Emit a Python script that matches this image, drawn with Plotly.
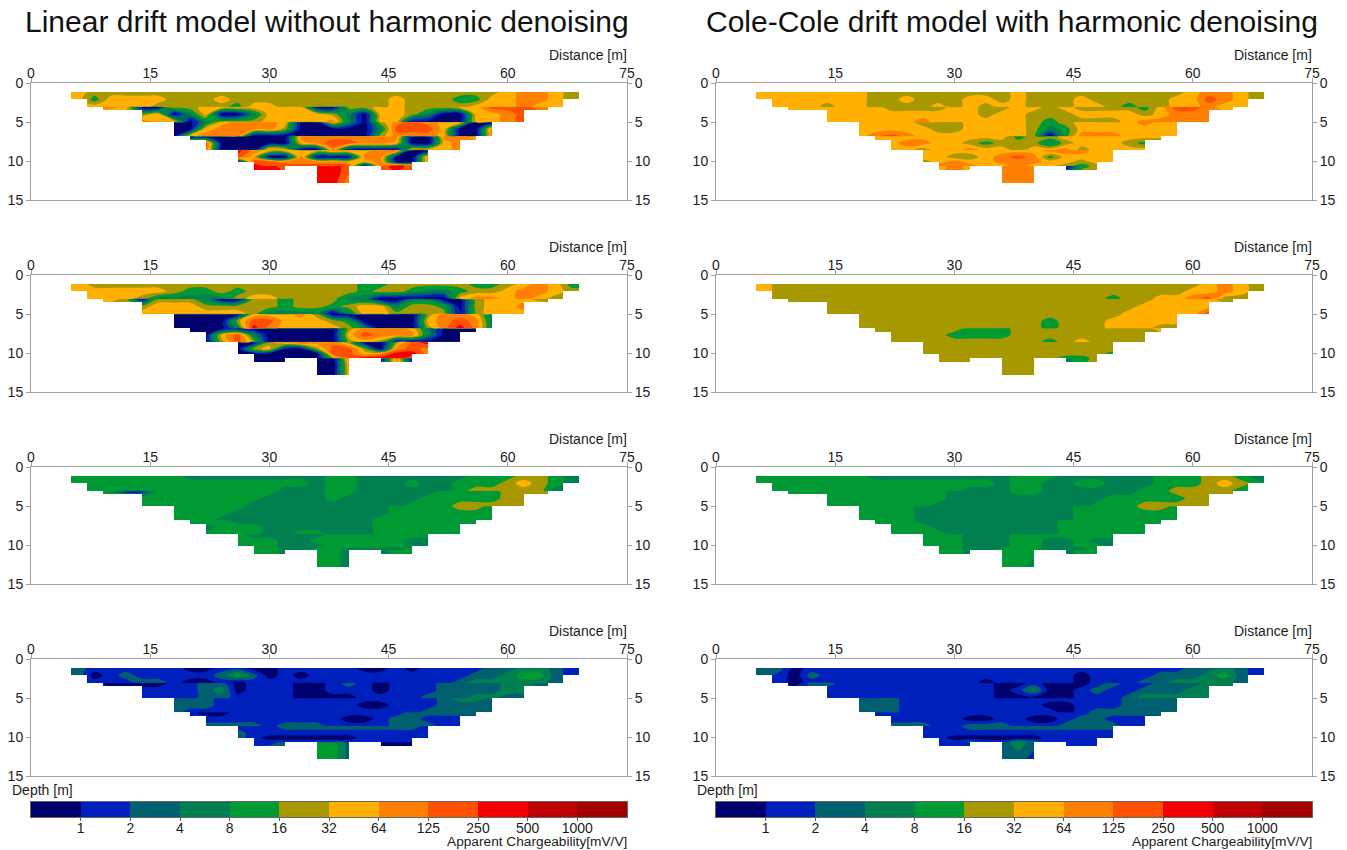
import plotly.graph_objects as go

# Chargeability classes (index = class, 0 is below 1 mV/V)
class_colors = ["#00006e", "#0020be", "#006070", "#008050", "#009a35", "#a89800",
                "#ffb000", "#ff8000", "#ff5000", "#f50000", "#c00000", "#a50000"]
class_labels = ["1", "2", "4", "8", "16", "32", "64", "125", "250", "500", "1000"]

grid_x = [4 + 2 * i for i in range(34)]
grid_depth = [1.15, 2.1, 3.02, 3.12, 4.0, 4.97, 5.07, 5.9, 6.78, 6.88, 7.7, 8.55, 8.65, 9.5, 10.1, 10.62, 10.72, 12.85]
row_start = [0, 0, 1, 2, 5, 5, 7, 7, 7, 8, 9, 9, 11, 11, 11, 12, 12, 16]
row_len = [34, 34, 32, 30, 25, 25, 21, 21, 21, 19, 17, 17, 13, 13, 13, 11, 11, 3]

# Section outline
outline_edges = [0, 5, 7, 9, 14, 18, 20, 22, 26, 28, 32, 36, 40, 44, 48, 50, 54, 56, 58, 62, 65, 67, 69, 75]
outline_bottom = [0, 2.1, 3.05, 3.5, 5.05, 6.85, 7.3, 8.6, 10.15, 11.1, 10.7, 12.8, 10.7, 11.1, 10.15, 8.6, 7.3, 6.85, 5.05, 3.5, 3.05, 2.1, 0]
outline_levels = [0, 1.15, 2.1, 3.05, 3.5, 5.05, 6.85, 7.3, 8.6, 10.15, 10.7, 11.1, 12.8, 15]

linear_a = ["66 55555 55555 55555 55555 55555 5 677655",
            "66 4 6666 555 6 55555 55555 6 555 44 66 77 6 55",
            "66666 55555 4 66 5555555 6 5555 666 7 66 5",
            "776 00 55 6666666 00 55 66 555 66 888 77",
            "5603600366665306653006678",
            "7660355566667306600006678",
            "003677760063057876600",
            "006777750000038886007",
            "067770000000057776007",
            "0000000777777700776",
            "80000067887760067",
            "80007600700006667",
            "9766667767700",
            "8600700077007",
            "0887777667007",
            "98888880798",
            "99889988898",
            "997"]
linear_b = ["665 55555 55555 55555 5 445555544567644",
            "6666666 5 44 5 4 5555555 4 55 4 33 4 55 6 77 6 55",
            "66665333335665555330000067767654",
            "66 5 0 555 3 00 55 4 555 33 00 33 00 5 666 5 4",
            "5666555554554566355405667",
            "6666666533330366555505666",
            "000006667500000057763",
            "000058866654000067873",
            "000039766665300057973",
            "0000000000577763000",
            "06830000068777300",
            "05850000056500000",
            "0057877500589",
            "0560058850787",
            "0000008867997",
            "00000589998",
            "00000077070",
            "006"]
linear_c = ["44444444 333333333 44 3333333 444 55 4 33",
            "4444444444444444 3 44 333 4 33 444 565 4 33",
            "4444444444444 333 44 333333 4 55555 33",
            "44 11 44444444 333 44 33333 4 444 555 4",
            "44444444 3333 4 33333 44444 55",
            "4444444 3333333333 444 55555",
            "44444 333333333 4444 55 4",
            "4444 333333333 3 4444444",
            "444 3333333333 44444444",
            "444 333333333 4444444",
            "3 444 3333333 444444",
            "4444 33 44 333 444444",
            "4 33333 4444444",
            "444 33 444444 33",
            "444 333 44444 33",
            "44 33 44 3333 4",
            "44 33 44 333 44",
            "443"]
linear_d = ["22 111111 00 11 00 11111 00 1 0 1111 22 33 2 11",
            "22 0 1 2 11111 2 4 2 0 1 0 1 111111111 22 3 44 2 11",
            "2 111 22 1 00 1 0 1111111111111 2 33333 22",
            "1 0000 11 22 0 111 00 1 2 1 0 111 2222 33 22",
            "1111 2 3 0 111 00 111 0 111 2222 33",
            "1111 22 1 111 0000 1111 222 33 22",
            "222 11111111111111 2 33 2",
            "222 111111111 00 111 2222",
            "2 11111111111111 1 22222",
            "1 00 11111111111 22222",
            "111111111 00 1 22 111",
            "2222 1 222 1111 222 11",
            "111 222222222 1",
            "2 111111111111",
            "2 1 000000 11111",
            "11111111111",
            "11 2 1 44 2 1 000",
            "442"]
colecole_a = ["66666666 555555555 6 5555555555 677 655",
              "66666666 5 5 6 555 66 5 6 555 6 55555 66 8 7 6 55",
              "6666 5 66 5555 6 5 6 5 66 555 66 5 4 55 66 7 66 5",
              "6666666 5555 66 55 66 5 6 5555 4 6 88 7 66",
              "6666666666 5 66 555 6666 5 6 777",
              "666666 7 666666 5 4 5555 6 77777",
              "6666 555 6666 5 4 5 6666 7 66",
              "66666 55 6666 5 3 4 6 666666",
              "6 7 8 7 6666666 5 0 4 777 6666",
              "666666666 4 55 6666666",
              "67766 5 4 555 3 5 666 5 4",
              "66566 7 66 5 66 7 5 6666",
              "66666666 777 66",
              "66 55 6 7 8 7 4 6666",
              "5 6 7 66 777 66 5 66",
              "77766766545",
              "67667776045",
              "777"]
colecole_b = ["66 55555 55555 55555 55555 55555 55 67655",
              "66 55555 55555 55555 55555 55555 5 667655",
              "55555 55555 55555 55555 55 4 55 66 7 8 555",
              "55555 55555 55555 55555 5555 6666 55",
              "55555 55555 55555 55555 66666",
              "55555 55555 55555 5555 66666 8",
              "55555 55555 55555 55 6666",
              "55555 55555 55 4 555 66666",
              "55555 55555 55 4 555 666 55",
              "555555 444 5 55555555 6",
              "5555 4444 5 55555555",
              "5555555555 4 5 6 5555",
              "5555555555555",
              "5555555555555",
              "555555555555 4",
              "55555555 44 5",
              "55555555 3 4 5",
              "555"]
colecole_c = ["44444444 333333333 444 333333 444 55 4 33",
              "4444444444444444 3 44 33 44 333 444 565 4 3",
              "4444444444444 333 44 333333 44 5555 4 3",
              "44444444444 3 333 44 33333 3 44 5555 4",
              "44444444 33333 33333 44444 55",
              "4444444 3333333333 444 55555",
              "4444 3 333333333 4444 55 4",
              "4444 3333333333 4444444",
              "4444 3333333333 4444444",
              "444 333333333 4444444",
              "444 3333333 3 444444",
              "4444 3333333 444444",
              "444 333 4444444",
              "444 333 44 33 4 33",
              "444 333 44 33 44 3",
              "44 33 444 333 4",
              "44 33 444 33 44",
              "443"]
colecole_d = ["222 0 1 1111111111111111111111 1 22 3 2 11",
              "22 1 0 2 111111111111111 1 0 1 111 222 3 4 2 11",
              "11 0 11111111111 0 11111 0 111 22 3333 22",
              "1 0 22 1 11111111 1 00 1 000 1 2 11 222 33 2",
              "111111111 11 0 1 3 00 1 2 11 222 33",
              "1111111111 1 00000 111 2 33333",
              "222 11111111111111 2222",
              "222 11111111 1 00 111 2 222",
              "222 111111111 1 0 1 2 22222",
              "11111111111111 22222",
              "11111 00 11 00 1 22 111",
              "222 11 222 111 2222 11",
              "111 2222222222",
              "1111111111111",
              "11 000000 11111",
              "11 2 11 3 2 1111",
              "1111 2 3 2 1111",
              "221"]

panels = [linear_a, linear_b, linear_c, linear_d, colecole_a, colecole_b, colecole_c, colecole_d]
titles = ["Linear drift model without harmonic denoising", "Cole-Cole drift model with harmonic denoising"]

W, H = 1347, 850
col_left = [31, 716]
col_right = [627, 1312]
title_center = [327, 1012]
row_top = [83, 275, 467, 659]
row_bottom = [200, 392, 584, 776]
AXIS = "#a0a0a0"
TXT = "#1c1c1c"
FONT = "Liberation Sans, Arial, sans-serif"


def px(v):
    return v / W


def py(v):
    return 1 - v / H


n = len(class_colors)
scale = []
for i, c in enumerate(class_colors):
    scale += [[i / n, c], [(i + 1) / n, c]]


def expand(rows):
    out = []
    for r, s, l in zip(rows, row_start, row_len):
        vals = [int(ch) for ch in r.replace(" ", "")]
        if len(vals) != l:
            raise ValueError(f"row {r!r} has {len(vals)} not {l}")
        out.append([vals[0]] * s + vals + [vals[-1]] * (len(grid_x) - s - l))
    return out


mask = []
for a, b in zip(outline_levels[:-1], outline_levels[1:]):
    mask.append([None if (a >= outline_levels[1] and b <= d) else 1 for d in outline_bottom])

fig = go.Figure()
layout = {}
annotations = []
for k, rows in enumerate(panels):
    c, r = k // 4, k % 4
    xa, ya, yr = f"x{k+1}", f"y{k+1}", f"y{k+9}"
    fig.add_trace(go.Contour(x=grid_x, y=grid_depth, z=expand(rows), xaxis=xa, yaxis=ya,
                             autocontour=False, colorscale=scale, zmin=-0.5, zmax=11.5,
                             contours=dict(start=0.5, end=10.5, size=1, coloring="fill", showlines=False),
                             line=dict(width=0), showscale=False, hoverinfo="skip"))
    fig.add_trace(go.Heatmap(x=outline_edges, y=outline_levels, z=mask, xaxis=xa, yaxis=yr,
                             colorscale=[[0, "white"], [1, "white"]], showscale=False, hoverinfo="skip"))
    dom_x = [px(col_left[c]), px(col_right[c])]
    dom_y = [py(row_bottom[r]), py(row_top[r])]
    layout[f"xaxis{k+1}"] = dict(domain=dom_x, range=[0, 75], side="top", anchor=ya,
                                 tickvals=[0, 15, 30, 45, 60, 75], ticks="outside", ticklen=4, tickcolor=AXIS,
                                 ticklabelstandoff=-6,
                                 showline=True, linecolor=AXIS, linewidth=1, mirror=True, automargin=False,
                                 showgrid=False, zeroline=False, tickfont=dict(size=14, color=TXT, family=FONT))
    yopts = dict(domain=dom_y, range=[15, 0], tickvals=[0, 5, 10, 15], ticks="outside", ticklen=4, tickcolor=AXIS,
                 showline=True, linecolor=AXIS, linewidth=1, showgrid=False, zeroline=False, automargin=False,
                 tickfont=dict(size=14, color=TXT, family=FONT))
    layout[f"yaxis{k+1}"] = dict(yopts, side="left", anchor=xa)
    layout[f"yaxis{k+9}"] = dict(yopts, side="right", anchor=xa, overlaying=ya)
    annotations.append(dict(text="Distance [m]", x=px(col_right[c] + 2), y=py(row_top[r] - 28), xref="paper", yref="paper",
                            xanchor="right", yanchor="middle", showarrow=False, font=dict(size=14, color=TXT, family=FONT)))

bar_top, bar_bottom = 802, 817
for c in range(2):
    xid, yid = 9 + c, 17 + c
    fig.add_trace(go.Heatmap(x=list(range(n + 1)), y=[0, 1], z=[list(range(n))], xaxis=f"x{xid}", yaxis=f"y{yid}",
                             colorscale=scale, zmin=-0.5, zmax=11.5, showscale=False, hoverinfo="skip"))
    layout[f"xaxis{xid}"] = dict(domain=[px(col_left[c]), px(col_right[c])], range=[0, n], anchor=f"y{yid}",
                                 tickvals=list(range(1, n)), ticktext=class_labels, ticks="outside", ticklen=3,
                                 ticklabelstandoff=-5,
                                 tickcolor="#555555", showline=True, linecolor="#666666", mirror=True, showgrid=False,
                                 zeroline=False, automargin=False, tickfont=dict(size=14, color=TXT, family=FONT))
    layout[f"yaxis{yid}"] = dict(domain=[py(bar_bottom), py(bar_top)], range=[0, 1], anchor=f"x{xid}",
                                 showticklabels=False, ticks="", showline=True, linecolor="#666666", mirror=True,
                                 showgrid=False, zeroline=False, automargin=False)
    annotations.append(dict(text=titles[c], x=px(title_center[c]), y=py(22),
                            xref="paper", yref="paper", xanchor="center", yanchor="middle", showarrow=False,
                            font=dict(size=30, color="#111111", family=FONT)))
    annotations.append(dict(text="Depth [m]", x=px(col_left[c] - 21), y=py(790), xref="paper", yref="paper",
                            xanchor="left", yanchor="middle", showarrow=False, font=dict(size=14, color=TXT, family=FONT)))
    annotations.append(dict(text="Apparent Chargeability[mV/V]", x=px(col_right[c] + 2), y=py(841), xref="paper", yref="paper",
                            xanchor="right", yanchor="middle", showarrow=False, font=dict(size=13.7, color=TXT, family=FONT)))

fig.update_layout(width=W, height=H, margin=dict(l=0, r=0, t=0, b=0), paper_bgcolor="white", plot_bgcolor="white",
                  showlegend=False, annotations=annotations, **layout)
fig.write_html("out.html", config=dict(displayModeBar=False),
               post_script="document.body.style.margin='0';document.documentElement.style.overflow='hidden';")
